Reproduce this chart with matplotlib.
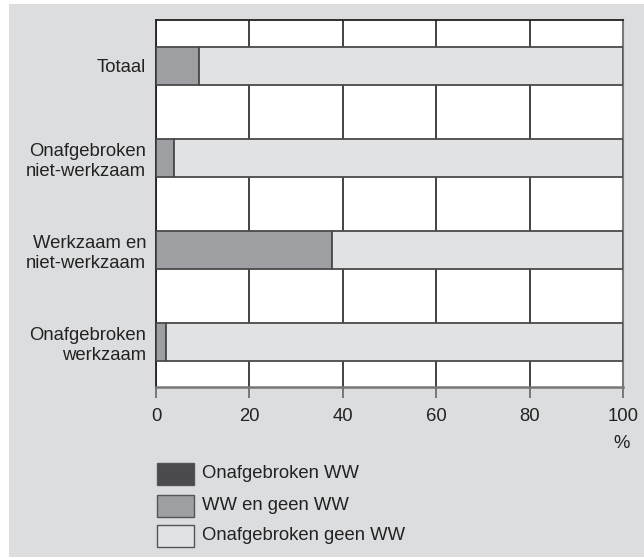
import matplotlib.pyplot as plt
from matplotlib.patches import Rectangle

plt.rcParams['font.family'] = ['Liberation Sans', 'DejaVu Sans']

# data (percentages)
categories = ["Totaal", "Onafgebroken\nniet-werkzaam", "Werkzaam en\nniet-werkzaam", "Onafgebroken\nwerkzaam"]
onafgebroken_ww = [0.0, 0.0, 0.0, 0.0]
ww_en_geen_ww = [9.2, 3.9, 37.6, 2.1]
geen_ww = [100 - a - b for a, b in zip(onafgebroken_ww, ww_en_geen_ww)]
series_names = ["Onafgebroken WW", "WW en geen WW", "Onafgebroken geen WW"]
colors = ["#4b4b4d", "#9e9fa2", "#e1e2e4"]
ticks = [0, 20, 40, 60, 80, 100]

bg = "#dcdddf"
edge = "#4a4a4a"
fs = 13.3

fig = plt.figure(figsize=(6.44, 5.58), dpi=100)
fig.patch.set_facecolor("white")
fig.patches.append(Rectangle((9/644, 1-557/558), 635/644, 553/558, transform=fig.transFigure,
                             facecolor=bg, edgecolor="none", zorder=-10))

ax = fig.add_axes([156/644, 1-387/558, 467/644, 367/558])
ax.set_facecolor("white")

y = list(range(len(categories)))
left = [0]*len(categories)
for vals, c in zip([onafgebroken_ww, ww_en_geen_ww, geen_ww], colors):
    ax.barh(y, vals, left=left, height=0.42, color=c, edgecolor=edge, linewidth=1.3, zorder=3)
    left = [l + v for l, v in zip(left, vals)]

ax.set_ylim(3.49, -0.5)
ax.set_xlim(0, 100)
ax.set_xticks(ticks)
ax.set_xticklabels([str(t) for t in ticks], fontsize=fs, color="#222")
ax.set_yticks(y)
ax.set_yticklabels(categories, fontsize=fs, color="#222", linespacing=1.2)
ax.tick_params(axis="y", length=0, pad=7)
ax.tick_params(axis="x", length=8, width=1.2, color="#666", pad=7)
ax.grid(axis="x", color="#222", linewidth=1.2, zorder=1)
ax.set_axisbelow(True)

for s in ["top", "left"]:
    ax.spines[s].set_color("#222")
    ax.spines[s].set_linewidth(1.3)
ax.spines["right"].set_color("#777")
ax.spines["right"].set_linewidth(1.5)
ax.spines["bottom"].set_color("#777")
ax.spines["bottom"].set_linewidth(1.8)

fig.text(630/644, 1-444/558, "%", fontsize=fs, color="#222", ha="right", va="center")

# legend
rows = [474, 506, 536]
for name, c, yy in zip(series_names, colors, rows):
    fig.patches.append(Rectangle((157/644, 1-(yy+11)/558), 37/644, 22/558, transform=fig.transFigure,
                                 facecolor=c, edgecolor="#555", linewidth=1.0))
    fig.text(202/644, 1-yy/558, name, fontsize=fs, color="#222", va="center", ha="left")

fig.savefig("out.png", dpi=100)
